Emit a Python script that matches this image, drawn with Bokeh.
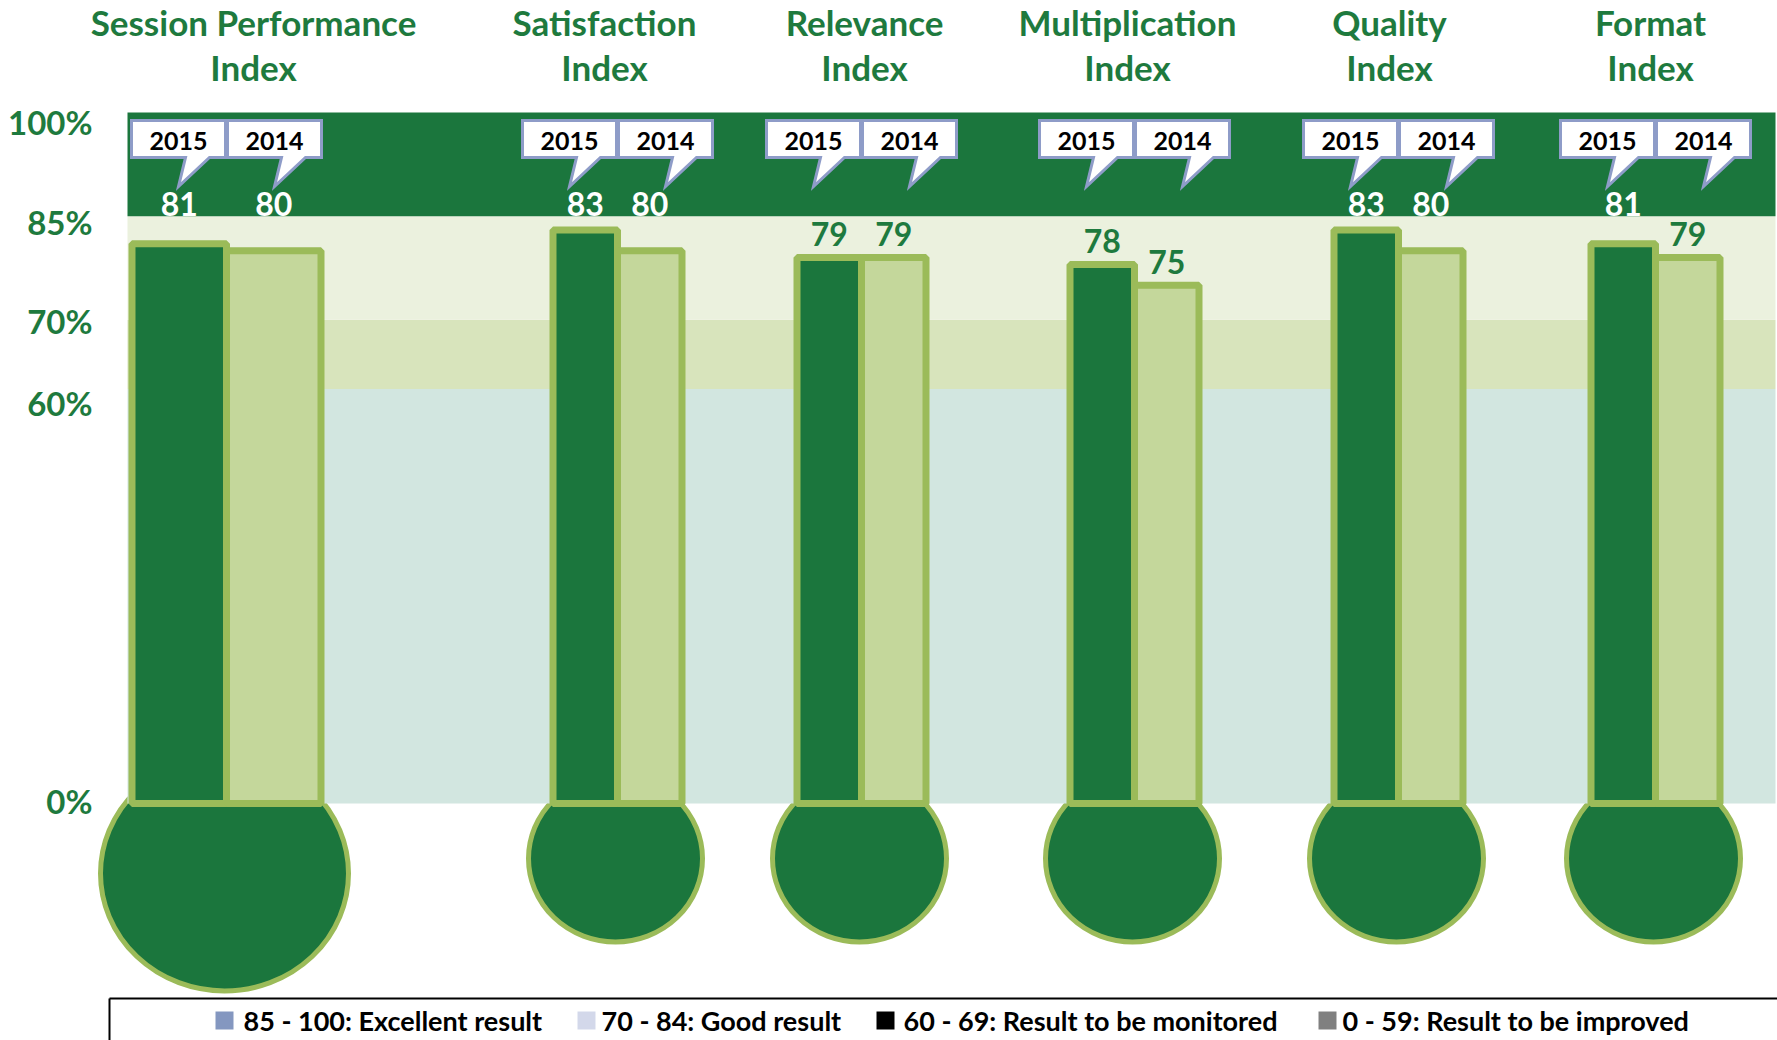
from bokeh.plotting import figure
from bokeh.models import Range1d
from bokeh.embed import file_html
from bokeh.resources import INLINE
from bokeh.core.properties import value

# ---------------- data ----------------
CATEGORIES = ["Session Performance Index", "Satisfaction Index", "Relevance Index",
              "Multiplication Index", "Quality Index", "Format Index"]
SERIES = ["2015", "2014"]
VALUES_2015 = [81, 83, 79, 78, 83, 81]
VALUES_2014 = [80, 80, 79, 75, 80, 79]
Y_TICKS = [100, 85, 70, 60, 0]
Y_TICK_LABELS = ["100%", "85%", "70%", "60%", "0%"]
BAND_LOW = [0, 60, 70, 85]
BAND_HIGH = [60, 70, 85, 100]
LEGEND_LABELS = ["85 - 100: Excellent result", "70 - 84: Good result",
                 "60 - 69: Result to be monitored", "0 - 59: Result to be improved"]

# ---------------- styles ----------------
GREEN_DARK = "#1B763D"
GREEN_TEXT = "#1E7A3E"
OLIVE = "#9BBB59"
LIGHT_BAR = "#C4D79B"
BAND_COLORS = ["#D2E6E0", "#D8E4BC", "#EBF1DE", GREEN_DARK]
CALLOUT_BORDER = "#8E9CC8"
LEGEND_COLORS = ["#8497C0", "#D3D8EA", "#000000", "#808080"]
FONT = value("Lato")

# ---------------- layout ----------------
W, H = 1777, 1040
ZERO_PX, PX_PER_UNIT = 803.0, 6.91


def yv(py):
    """page pixel row -> value units"""
    return (ZERO_PX - py) / PX_PER_UNIT


GROUP_X = [226, 617, 861, 1134, 1398, 1655]
BAR_W = [94.5, 64.5, 64.5, 64.5, 64.5, 64.5]
TITLE_X = [253, 604, 864, 1127, 1389, 1650]
BULB_W = [248, 174, 174, 174, 174, 174]
BULB_H_PX = [235, 167, 167, 167, 167, 167]
BULB_CY_PX = [873, 858, 858, 858, 858, 858]
BAND_X = (127, 1775)
CALLOUT_OFFSET = 48
LEGEND_SQ_X = [215, 577, 876, 1318]
LEGEND_TX = [243, 601, 903, 1342]
TICK_LABEL_PX = [121.5, 221, 320.5, 402, 800.5]

p = figure(width=W, height=H, x_range=Range1d(0, W),
           y_range=Range1d(yv(H), yv(0)),
           output_backend="svg", toolbar_location=None, min_border=0,
           background_fill_color="white", border_fill_color="white")
p.outline_line_color = None
p.axis.visible = False
p.grid.visible = False

# bulbs
p.ellipse(x=[g - 2 for g in GROUP_X], y=[yv(c) for c in BULB_CY_PX],
          width=BULB_W, height=[h / PX_PER_UNIT for h in BULB_H_PX],
          fill_color=GREEN_DARK, line_color=OLIVE, line_width=5)

# bands
p.quad(left=BAND_X[0], right=BAND_X[1], bottom=BAND_LOW, top=BAND_HIGH,
       fill_color=BAND_COLORS, line_color=None)

# bars
x15 = [g - w / 2 for g, w in zip(GROUP_X, BAR_W)]
x14 = [g + w / 2 for g, w in zip(GROUP_X, BAR_W)]
p.vbar(x=x15, width=BAR_W, bottom=0, top=VALUES_2015,
       fill_color=GREEN_DARK, line_color=OLIVE, line_width=7)
p.vbar(x=x14, width=BAR_W, bottom=0, top=VALUES_2014,
       fill_color=LIGHT_BAR, line_color=OLIVE, line_width=7)

# value labels
lab_x, lab_y, lab_t, lab_c = [], [], [], []
for xs, vals in ((x15, VALUES_2015), (x14, VALUES_2014)):
    for xx, vv in zip(xs, vals):
        lab_x.append(xx)
        if vv >= 80:
            lab_y.append(yv(203))
            lab_c.append("white")
        else:
            lab_y.append(vv + 3.4)
            lab_c.append(GREEN_TEXT)
        lab_t.append(str(vv))
p.text(x=lab_x, y=lab_y, text=lab_t, text_color=lab_c, text_font=FONT,
       text_font_style="bold", text_font_size="32px", text_align="center",
       text_baseline="middle")

# callouts
cxs, cys, ctx, cty, ctt = [], [], [], [], []
top, bot, tip = 120, 157, 186
for g in GROUP_X:
    for k, yr in enumerate(SERIES):
        cx = g - CALLOUT_OFFSET if k == 0 else g + CALLOUT_OFFSET
        pts = [(cx - 47, top), (cx + 47, top), (cx + 47, bot), (cx + 31, bot),
               (cx, tip), (cx + 7, bot), (cx - 47, bot)]
        cxs.append([a for a, b in pts])
        cys.append([yv(b) for a, b in pts])
        ctx.append(cx)
        cty.append(yv(140))
        ctt.append(yr)
p.patches(xs=cxs, ys=cys, fill_color="white", line_color=CALLOUT_BORDER,
          line_width=3, line_join="miter")
p.text(x=ctx, y=cty, text=ctt, text_color="black", text_font=FONT,
       text_font_style="bold", text_font_size="25px", text_align="center",
       text_baseline="middle")

# titles
line1 = [c.rsplit(" ", 1)[0] for c in CATEGORIES]
line2 = [c.rsplit(" ", 1)[1] for c in CATEGORIES]
p.text(x=TITLE_X, y=[yv(21.5)] * len(CATEGORIES), text=line1, text_color=GREEN_TEXT,
       text_font=FONT, text_font_style="bold", text_font_size="35px",
       text_align="center", text_baseline="middle")
p.text(x=TITLE_X, y=[yv(66)] * len(CATEGORIES), text=line2, text_color=GREEN_TEXT,
       text_font=FONT, text_font_style="bold", text_font_size="35px",
       text_align="center", text_baseline="middle")

# y tick labels
p.text(x=[92] * len(Y_TICKS), y=[yv(b) for b in TICK_LABEL_PX], text=Y_TICK_LABELS,
       text_color=GREEN_TEXT, text_font=FONT, text_font_style="bold",
       text_font_size="33px", text_align="right", text_baseline="middle")

# legend
p.segment(x0=[109, 109], y0=[yv(998), yv(998)], x1=[1800, 109], y1=[yv(998), yv(1060)],
          line_color="black", line_width=2)
p.quad(left=LEGEND_SQ_X, right=[x + 18 for x in LEGEND_SQ_X],
       top=yv(1011), bottom=yv(1029), fill_color=LEGEND_COLORS, line_color=None)
p.text(x=LEGEND_TX, y=[yv(1020)] * 4, text=LEGEND_LABELS, text_color="black",
       text_font=FONT, text_font_style="bold", text_font_size="27px",
       text_align="left", text_baseline="middle")

open("out.html", "w").write(file_html(p, INLINE))
